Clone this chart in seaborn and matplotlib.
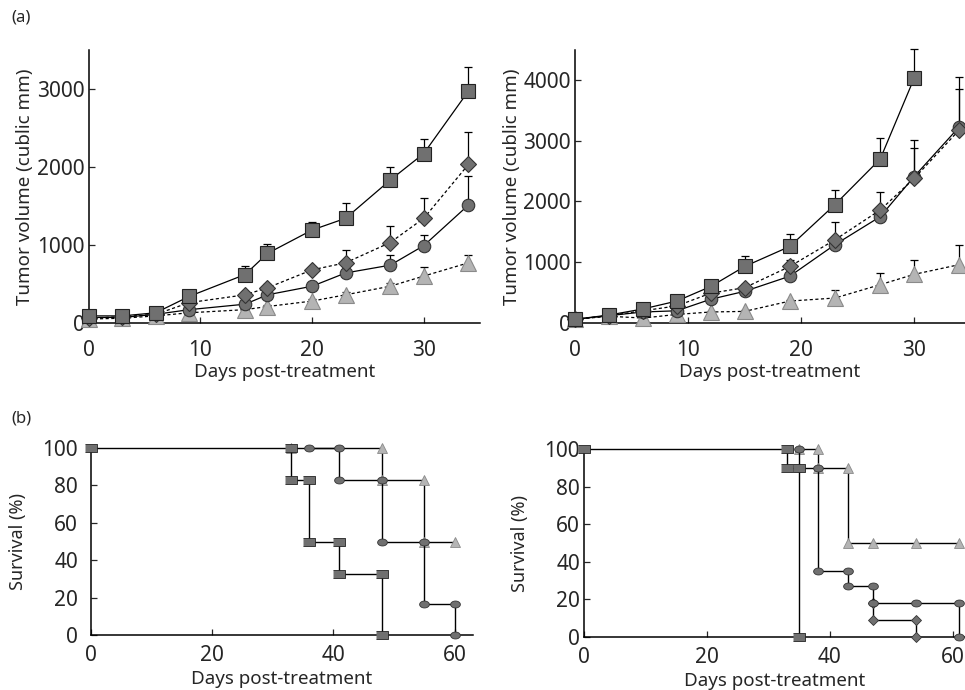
import matplotlib
matplotlib.use("Agg")
import matplotlib.pyplot as plt
import numpy as np
import seaborn as sns

# (a) tumor volume, left panel
days_a1 = [0, 3, 6, 9, 14, 16, 20, 23, 27, 30, 34]
sq_a1 = [90, 90, 130, 340, 620, 890, 1190, 1340, 1830, 2170, 2970]
sq_a1_err = [20, 20, 30, 40, 105, 120, 105, 200, 165, 190, 310]
dia_a1 = [60, 80, 110, 260, 360, 450, 680, 770, 1030, 1340, 2030]
dia_a1_err = [10, 10, 20, 30, 40, 50, 40, 170, 215, 255, 410]
cir_a1 = [70, 70, 110, 170, 240, 360, 470, 640, 740, 990, 1510]
cir_a1_err = [10, 10, 20, 20, 30, 40, 40, 40, 125, 135, 370]
tri_a1 = [50, 60, 90, 130, 170, 210, 280, 360, 470, 600, 770]
tri_a1_err = [10, 10, 10, 20, 20, 20, 20, 30, 40, 110, 100]

# (a) tumor volume, right panel
days_a2 = [0, 3, 6, 9, 12, 15, 19, 23, 27, 30, 34]
sq_a2 = [60, 130, 230, 360, 600, 930, 1260, 1950, 2700, 4030]
sq_a2_err = [20, 20, 30, 50, 80, 175, 200, 235, 345, 475]
dia_a2 = [60, 120, 200, 280, 490, 580, 930, 1370, 1860, 2380, 3180]
dia_a2_err = [10, 20, 20, 30, 60, 60, 100, 300, 300, 500, 670]
cir_a2 = [60, 120, 180, 200, 390, 520, 770, 1290, 1750, 2410, 3230]
cir_a2_err = [10, 20, 20, 30, 40, 50, 60, 100, 120, 610, 820]
tri_a2 = [60, 110, 80, 140, 180, 190, 360, 410, 630, 800, 960]
tri_a2_err = [10, 20, 20, 20, 20, 20, 20, 140, 190, 230, 330]

# (b) survival, left panel (step corners)
sq_b1_x = [0, 33, 33, 36, 36, 41, 41, 48, 48]
sq_b1_y = [100, 100, 83, 83, 50, 50, 33, 33, 0]
cir_b1_x = [36, 41, 41, 48, 48, 55, 55, 60, 60]
cir_b1_y = [100, 100, 83, 83, 50, 50, 17, 17, 0]
tri_b1_x = [33, 48, 48, 55, 55, 60]
tri_b1_y = [100, 100, 83, 83, 50, 50]

# (b) survival, right panel
sq_b2_x = [0, 33, 33, 35, 35]
sq_b2_y = [100, 100, 90, 90, 0]
cir_b2_x = [35, 35, 38, 38, 43, 43, 47, 47, 54, 61, 61]
cir_b2_y = [100, 90, 90, 35, 35, 27, 27, 18, 18, 18, 0]
dia_b2_x = [47, 47, 54, 54]
dia_b2_y = [18, 9, 9, 0]
tri_b2_x = [35, 38, 38, 43, 43, 47, 54, 61]
tri_b2_y = [100, 100, 90, 90, 50, 50, 50, 50]

sns.set_theme(style="ticks")
plt.rcParams['font.family'] = ['Noto Sans', 'DejaVu Sans']

dark = '#707070'
light = '#b4b4b4'
dash = (0, (2.5, 2))

fig = plt.figure(figsize=(9.65, 6.9), dpi=100)
ax1 = fig.add_axes([0.092, 0.532, 0.405, 0.396])
ax2 = fig.add_axes([0.596, 0.532, 0.404, 0.396])
ax3 = fig.add_axes([0.094, 0.079, 0.396, 0.272])
ax4 = fig.add_axes([0.6055, 0.077, 0.3945, 0.272])

rect = [(-1.4, -1), (1.4, -1), (1.4, 1), (-1.4, 1)]
t = np.linspace(0, 2 * np.pi, 40)
ellipse = list(zip(1.4 * np.cos(t), np.sin(t)))


def growth(ax, x, y, err, marker, face, edge, ls, ms):
    sns.lineplot(x=x, y=y, ax=ax, color='black', lw=0.9, linestyle=ls,
                 marker=marker, markersize=ms, markerfacecolor=face,
                 markeredgecolor=edge, markeredgewidth=0.8,
                 sort=False, estimator=None, clip_on=False, zorder=3)
    ax.errorbar(x, y, yerr=[np.zeros(len(err)), err], fmt='none',
                ecolor='black', elinewidth=0.9, capsize=3, capthick=0.9,
                zorder=2, clip_on=False)


def step(ax, x, y, marker, face, edge, ms, z):
    sns.lineplot(x=x, y=y, ax=ax, color='black', lw=1.0,
                 marker=marker, markersize=ms, markerfacecolor=face,
                 markeredgecolor=edge, markeredgewidth=0.6,
                 sort=False, estimator=None, clip_on=False, zorder=z)


for ax, d, sets in [
    (ax1, days_a1, [(tri_a1, tri_a1_err, '^', light, '#8a8a8a', dash, 11),
                    (cir_a1, cir_a1_err, 'o', dark, '#333333', '-', 9),
                    (dia_a1, dia_a1_err, 'D', dark, '#333333', dash, 8),
                    (sq_a1, sq_a1_err, 's', dark, '#222222', '-', 9.5)]),
    (ax2, days_a2, [(tri_a2, tri_a2_err, '^', light, '#8a8a8a', dash, 11),
                    (cir_a2, cir_a2_err, 'o', dark, '#333333', '-', 9),
                    (dia_a2, dia_a2_err, 'D', dark, '#333333', dash, 8),
                    (sq_a2, sq_a2_err, 's', dark, '#222222', '-', 9.5)]),
]:
    for y, e, m, f, ec, ls, ms in sets:
        growth(ax, d[:len(y)], y, e, m, f, ec, ls, ms)
    ax.set_xticks([0, 10, 20, 30])
    ax.set_xlabel('Days post-treatment', fontsize=13.5, labelpad=2)
    ax.set_ylabel('Tumor volume (cublic mm)', fontsize=13.5, labelpad=2)

ax1.set_xlim(0, 35)
ax1.set_ylim(0, 3500)
ax1.set_yticks([0, 1000, 2000, 3000])
ax2.set_xlim(0, 34.5)
ax2.set_ylim(0, 4500)
ax2.set_yticks([0, 1000, 2000, 3000, 4000])

step(ax3, tri_b1_x, tri_b1_y, '^', light, '#8a8a8a', 7, 3)
step(ax3, cir_b1_x, cir_b1_y, ellipse, dark, '#333333', 7, 4)
step(ax3, sq_b1_x, sq_b1_y, rect, dark, '#222222', 9, 5)

step(ax4, tri_b2_x, tri_b2_y, '^', light, '#8a8a8a', 7, 3)
step(ax4, dia_b2_x, dia_b2_y, 'D', dark, '#333333', 5, 4)
step(ax4, cir_b2_x, cir_b2_y, ellipse, dark, '#333333', 7, 4)
step(ax4, sq_b2_x, sq_b2_y, rect, dark, '#222222', 9, 5)

for ax, xmax in [(ax3, 63), (ax4, 62)]:
    ax.set_xlim(0, xmax)
    ax.set_ylim(0, 100)
    ax.set_xticks([0, 20, 40, 60])
    ax.set_yticks([0, 20, 40, 60, 80, 100])
    ax.set_xlabel('Days post-treatment', fontsize=13.5, labelpad=3)
    ax.set_ylabel('Survival (%)', fontsize=13, labelpad=11)

for ax in [ax1, ax2, ax3, ax4]:
    sns.despine(ax=ax)
    ax.tick_params(direction='in', length=4, width=0.9, labelsize=15, pad=3)
    for s in ['left', 'bottom']:
        ax.spines[s].set_linewidth(1.1)
        ax.spines[s].set_color('black')

for ax in [ax1, ax2]:
    ax.tick_params(axis='x', pad=12)
for ax in [ax3, ax4]:
    ax.tick_params(axis='x', pad=7)
ax3.tick_params(axis='y', pad=9)

fig.text(0.012, 0.974, '(a)', fontsize=12, va='center')
fig.text(0.012, 0.394, '(b)', fontsize=12, va='center')

fig.savefig('out.png', dpi=100)
